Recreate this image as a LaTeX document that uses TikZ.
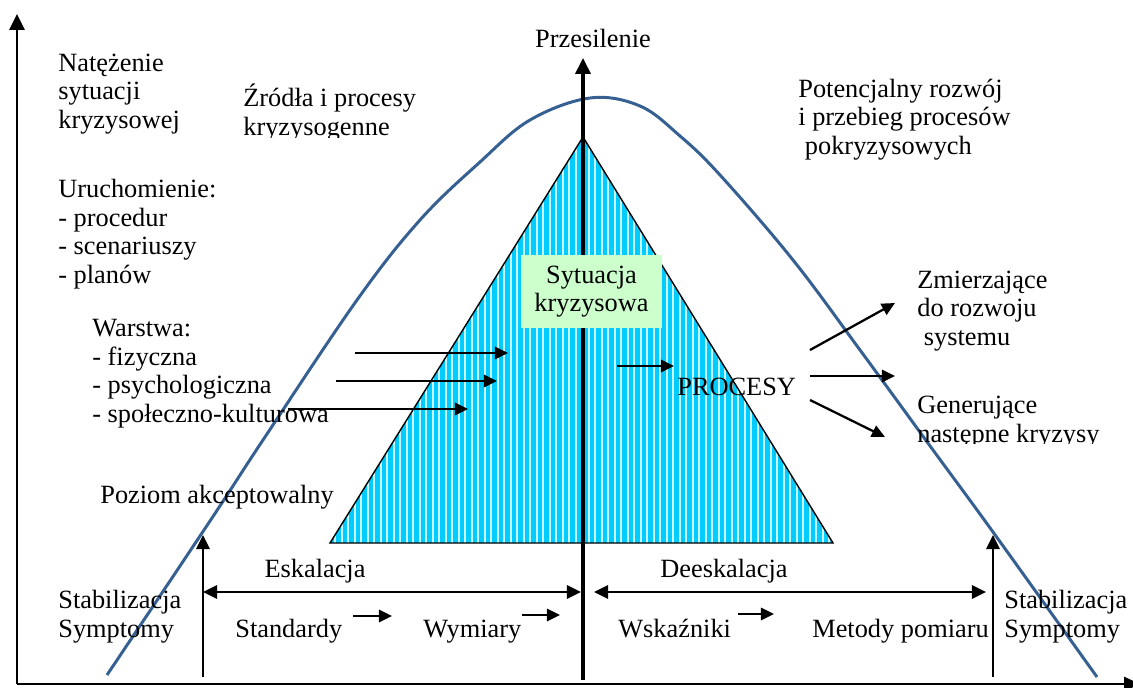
\documentclass[tikz,border=0pt]{standalone}
\usepackage{fontspec}
\setmainfont{Liberation Serif}
\usetikzlibrary{arrows.meta}
\definecolor{stripecyan}{RGB}{0,204,255}
\definecolor{palecyan}{RGB}{200,250,255}
\definecolor{curveblue}{RGB}{54,96,146}
\definecolor{labelgreen}{RGB}{204,255,204}
\tikzset{
  txt/.style={inner sep=0pt, align=left, anchor=base west, font=\fontsize{15}{16.2}\selectfont},
  axis/.style={line width=1.6pt, -{Triangle[length=9pt, width=8.5pt]}},
  bigarrow/.style={line width=1.6pt, -{Triangle[length=8pt, width=7.5pt]}},
  smallarrow/.style={line width=1.3pt, -{Triangle[length=7.5pt, width=7pt]}},
}
\begin{document}
\begin{tikzpicture}[x=0.02cm,y=-0.02cm]
\useasboundingbox (0,0) rectangle (1133,687);
\clip (0,0) rectangle (1133,687);
% triangle with stripes
\coordinate (apex) at (583,137);
\coordinate (baseL) at (330,543);
\coordinate (baseR) at (833,543);
\begin{scope}
\clip (apex) -- (baseL) -- (baseR) -- cycle;
\fill[palecyan] (330,130) rectangle (833,543);
\foreach \i in {0,...,78}
  \draw[stripecyan, line width=2.3pt] (332+\i*6.5,130) -- (332+\i*6.5,550);
\end{scope}
\draw[line width=0.8pt] (apex) -- (baseL) -- (baseR) -- cycle;
% curve
\draw[curveblue, line width=1.7pt] plot[smooth, tension=0.6] coordinates {
  (107,675) (210,521) (263,440) (357,300) (420,220) (480,162) (530,120)
  (590,98) (640,106) (680,136) (720,175) (793,260) (860,350) (933,450)
  (993,532) (1097,677)};
% axes
\coordinate (origin) at (17,684);
\coordinate (ytop) at (17,14);
\coordinate (xend) at (1140,684);
\draw[axis] (origin) -- (ytop);
\draw[line width=1.2pt, -{Triangle[length=9pt, width=8pt]}] (origin) -- (xend);
\coordinate (midbot) at (583,680);
\coordinate (midtop) at (583,58);
\draw[axis, line width=1.9pt] (midbot) -- (midtop);
\node[txt, anchor=base] (przesilenie) at (593,47) {Przesilenie};
% green label
\node[fill=labelgreen, inner sep=0pt, minimum width=2.82cm, minimum height=1.46cm,
  align=center, font=\fontsize{15}{16.2}\selectfont] (sytuacja) at (591.5,291.5)
  {Sytuacja\\kryzysowa};
% left texts (base = last line)
\node[txt] (natezenie) at (58,128) {Natężenie\\sytuacji\\kryzysowej};
\node[txt] (uruchomienie) at (58,283) {Uruchomienie:\\- procedur\\- scenariuszy\\- planów};
\begin{scope}
\clip (230,70) rectangle (450,137);
\node[txt] (zrodla) at (243,135) {Źródła i procesy\\kryzysogenne};
\end{scope}
\node[txt] (warstwa) at (92,422) {Warstwa:\\- fizyczna\\- psychologiczna\\- społeczno-kulturowa};
\node[txt] (poziom) at (100,503) {Poziom akceptowalny};
\node[txt] (stabL) at (58,637) {Stabilizacja\\Symptomy};
% right texts
\node[txt] (potencjalny) at (798,154) {Potencjalny rozwój\\i przebieg procesów\\\ pokryzysowych};
\node[txt] (zmierzajace) at (917,345) {Zmierzające\\do rozwoju\\\ systemu};
\begin{scope}
\clip (900,380) rectangle (1133,443);
\node[txt] (generujace) at (917,442) {Generujące\\następne kryzysy};
\end{scope}
\node[txt] (procesy) at (677,395) {PROCESY};
\node[txt] (stabR) at (1004,637) {Stabilizacja\\Symptomy};
% bottom texts
\node[txt, anchor=base] (eskalacja) at (315,577) {Eskalacja};
\node[txt, anchor=base] (deeskalacja) at (724,577) {Deeskalacja};
\node[txt] (standardy) at (235,637) {Standardy};
\node[txt] (wymiary) at (423,637) {Wymiary};
\node[txt] (wskazniki) at (618,637) {Wskaźniki};
\node[txt] (metody) at (812,637) {Metody pomiaru};
% level arrows
\coordinate (accL) at (203,677);
\coordinate (accLtop) at (203,535);
\coordinate (accR) at (993,677);
\coordinate (accRtop) at (993,535);
\draw[bigarrow] (accL) -- (accLtop);
\draw[bigarrow] (accR) -- (accRtop);
\coordinate (eskL) at (203,592);
\coordinate (eskR) at (581,592);
\coordinate (deskL) at (594,592);
\coordinate (deskR) at (986,592);
\draw[bigarrow, {Triangle[length=8pt, width=7.5pt]}-{Triangle[length=8pt, width=7.5pt]}] (eskL) -- (eskR);
\draw[bigarrow, {Triangle[length=8pt, width=7.5pt]}-{Triangle[length=8pt, width=7.5pt]}] (deskL) -- (deskR);
% small arrows between measures
\draw[smallarrow] (353,616) -- (392,616);
\draw[smallarrow] (522,615) -- (560,615);
\draw[smallarrow] (738,614) -- (774,614);
% layer arrows
\draw[smallarrow] (355,353) -- (508,353);
\draw[smallarrow] (336,381) -- (497,381);
\draw[smallarrow] (288,409) -- (468,409);
\draw[smallarrow] (617,366) -- (674,366);
% process arrows
\coordinate (procA) at (810,350);
\coordinate (procB) at (810,376);
\coordinate (procC) at (810,400);
\draw[smallarrow] (procA) -- (895,303);
\draw[smallarrow] (procB) -- (895,376);
\draw[smallarrow] (procC) -- (885,437);
\end{tikzpicture}
\end{document}
